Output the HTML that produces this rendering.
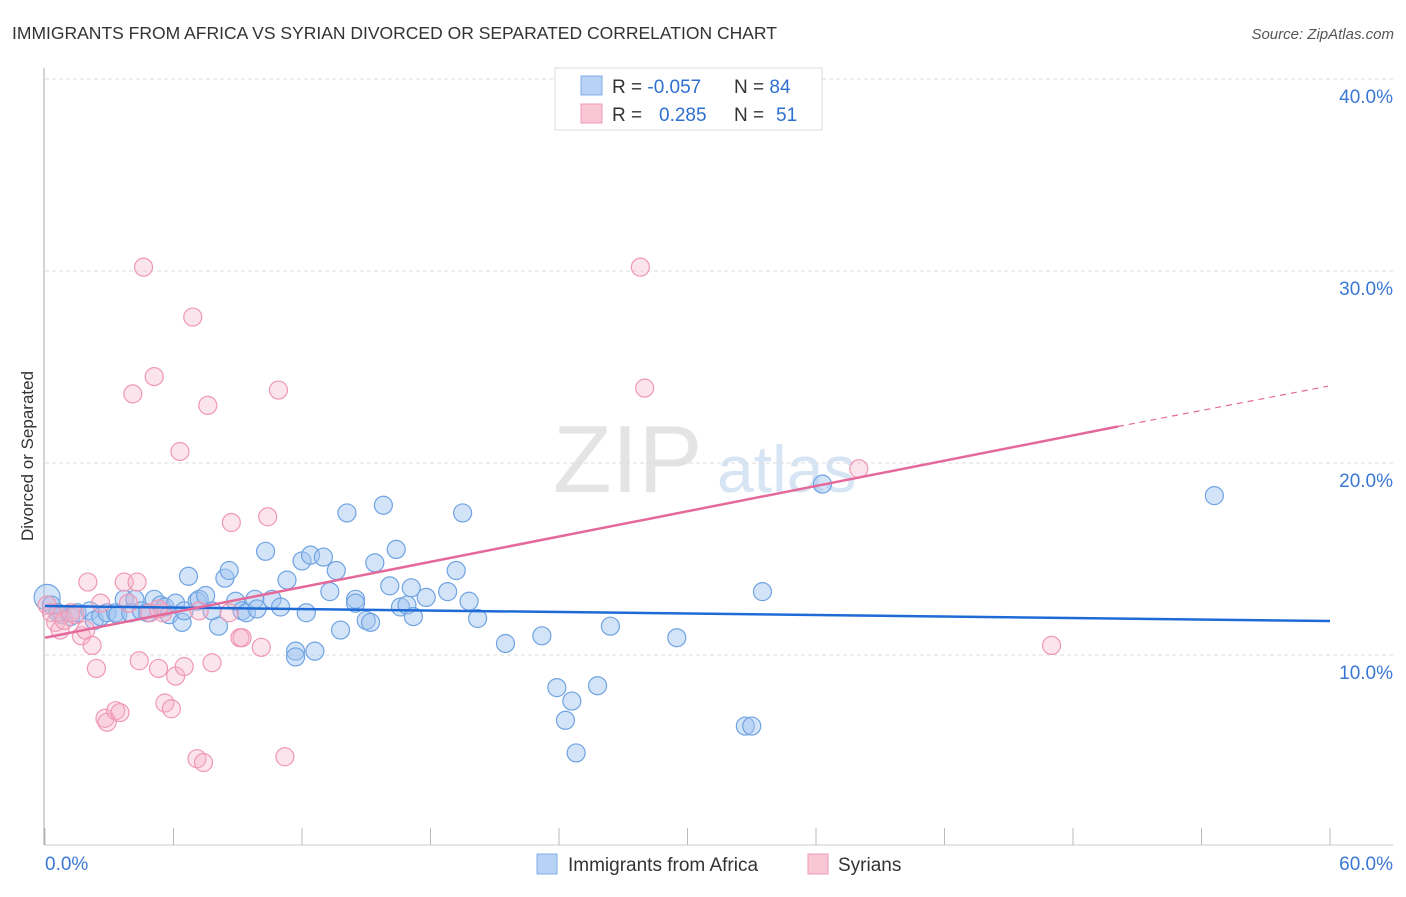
<!DOCTYPE html>
<html><head><meta charset="utf-8"><style>
body{margin:0;background:#fff;font-family:"Liberation Sans",sans-serif}
svg text{font-family:"Liberation Sans",sans-serif}
</style></head><body>
<svg id="c" width="1406" height="892" viewBox="0 0 1406 892">
<text x="12" y="39" font-size="17.5" fill="#333">IMMIGRANTS FROM AFRICA VS SYRIAN DIVORCED OR SEPARATED CORRELATION CHART</text>
<text x="1394" y="39" font-size="15" fill="#555" font-style="italic" text-anchor="end">Source: ZipAtlas.com</text>
<g>
<text x="553" y="492" font-size="96" font-family="Liberation Serif,serif" fill="#e4e4e4">ZIP</text>
<text x="717" y="492" font-size="66" fill="#d6e4f4">atlas</text>
</g>
<g id="grid"></g>
<g id="axes"></g>
<g id="pts"></g>
<g id="trends"></g>
<text transform="translate(33,456) rotate(-90)" font-size="17" fill="#333" text-anchor="middle">Divorced or Separated</text>
<g>
<rect x="555" y="68" width="267" height="62" fill="#fff" stroke="#ddd"/>
<rect x="581" y="76" width="21" height="19" fill="#b7d2f5" stroke="#80aee8"/>
<rect x="581" y="104" width="21" height="19" fill="#f9c6d6" stroke="#ee9cb6"/>
<text x="612" y="93" font-size="19" fill="#333">R = <tspan fill="#2f6fd0">-0.057</tspan><tspan x="734">N = </tspan><tspan fill="#2f6fd0">84</tspan></text>
<text x="612" y="121" font-size="19" fill="#333">R = <tspan x="659" fill="#2f6fd0">0.285</tspan><tspan x="734">N = </tspan><tspan x="776" fill="#2f6fd0">51</tspan></text>
</g>
<g>
<rect x="537" y="854" width="20" height="20" fill="#b7d2f5" stroke="#80aee8"/>
<text x="568" y="871" font-size="19" fill="#333">Immigrants from Africa</text>
<rect x="808" y="854" width="20" height="20" fill="#f9c6d6" stroke="#ee9cb6"/>
<text x="838" y="871" font-size="19" fill="#333">Syrians</text>
</g>
</svg>
<script>
const xTicks=[0,60];
const yTicks=[10,20,30,40];
const blueX=[0.1,0.3,0.6,0.8,1.2,1.5,2.1,2.3,2.6,2.9,3.3,3.4,3.7,4.0,4.2,4.5,4.8,5.1,5.4,5.6,5.8,6.1,6.4,6.5,6.7,7.1,7.2,7.5,7.8,8.1,8.4,8.6,8.9,9.2,9.4,9.8,9.9,10.3,10.6,11.0,11.3,11.7,11.7,12.2,12.6,12.0,12.4,13.0,13.3,13.6,13.8,14.1,14.5,14.5,15.0,15.2,15.4,15.8,16.1,16.4,16.6,16.9,17.1,17.2,17.8,18.8,19.2,19.5,19.8,20.2,21.5,23.2,23.9,24.3,24.6,24.8,25.8,26.4,29.5,32.7,33.0,33.5,36.3,54.6];
const blueY=[13.0,12.6,12.2,12.1,12.0,12.2,12.3,11.8,12.0,12.2,12.2,12.1,12.9,12.2,12.9,12.3,12.2,12.9,12.6,12.5,12.1,12.7,11.7,12.3,14.1,12.8,12.9,13.1,12.3,11.5,14.0,14.4,12.8,12.3,12.2,12.9,12.4,15.4,12.9,12.5,13.9,10.2,9.9,12.2,10.2,14.9,15.2,15.1,13.3,14.4,11.3,17.4,12.9,12.7,11.8,11.7,14.8,17.8,13.6,15.5,12.5,12.6,13.5,12.0,13.0,13.3,14.4,17.4,12.8,11.9,10.6,11.0,8.3,6.6,7.6,4.9,8.4,11.5,10.9,6.3,6.3,13.3,18.9,18.3];
const pinkX=[0.1,0.3,0.5,0.7,0.9,1.2,1.4,1.7,1.9,2.0,2.2,2.4,2.6,2.8,2.9,3.3,3.5,3.7,3.9,4.1,4.3,4.4,4.6,4.9,5.1,5.3,5.5,5.6,5.9,6.1,6.3,6.5,6.9,7.1,7.4,7.6,7.8,8.7,9.1,9.2,10.1,10.4,10.9,11.2,27.8,28.0,38.0,47.0,7.2,8.6,5.3];
const pinkY=[12.6,12.2,11.7,11.3,11.8,12.2,12.1,11.0,11.3,13.8,10.5,9.3,12.7,6.7,6.5,7.1,7.0,13.8,12.7,23.6,13.8,9.7,30.2,12.2,24.5,9.3,12.2,7.5,7.2,8.9,20.6,9.4,27.6,4.6,4.4,23.0,9.6,16.9,10.9,10.9,10.4,17.2,23.8,4.7,30.2,23.9,19.7,10.5,12.3,12.2,12.4];
const blueTrend=[12.55,11.77];
const pinkTrend=[10.9,21.9,24.0];
const pinkTrendX=[0,50.1,59.9];

const NS='http://www.w3.org/2000/svg';
const X0=45,X1=1330,Y0=847,PPY=19.2;
const sx=v=>X0+v/60*(X1-X0);
const sy=v=>Y0-v*PPY;
function mk(tag,attrs,parent){const e=document.createElementNS(NS,tag);for(const k in attrs)e.setAttribute(k,attrs[k]);parent.appendChild(e);return e;}
const grid=document.getElementById('grid'),axes=document.getElementById('axes'),pts=document.getElementById('pts'),tr=document.getElementById('trends');
yTicks.forEach(t=>{
 const l=mk('line',{x1:45,x2:1393,y1:sy(t),y2:sy(t),stroke:'#ddd','stroke-dasharray':'4,3'},grid);
 
 
 const tx=mk('text',{x:1393,y:sy(t)+24,'font-size':19,fill:'#3a78d4','text-anchor':'end'},axes);
 tx.textContent=t.toFixed(1)+'%';
 
 
});
mk('line',{x1:44,x2:44,y1:68,y2:845,stroke:'#aaa'},axes);
mk('line',{x1:44,x2:1393,y1:845,y2:845,stroke:'#ccc'},axes);
for(let i=0;i<=10;i++){const x=X0+i*(X1-X0)/10;const tk=mk('line',{x1:x,x2:x,y1:828,y2:845,stroke:'#bbb'},axes);
 
 }
xTicks.forEach((t,i)=>{const tx=mk('text',{x:i?1393:45,y:870,'font-size':19,fill:'#3a78d4','text-anchor':i?'end':'start'},axes);
 tx.textContent=t.toFixed(1)+'%';
 
 });
blueX.forEach((x,i)=>{const c=mk('circle',{cx:sx(x),cy:sy(blueY[i]),r:i===0?13:9,fill:'rgba(160,196,240,0.45)',stroke:'#6fa3e2','stroke-width':1.2},pts);
 
 });
pinkX.forEach((x,i)=>{const c=mk('circle',{cx:sx(x),cy:sy(pinkY[i]),r:9,fill:'rgba(246,178,200,0.35)',stroke:'#ef98b4','stroke-width':1.2},pts);
 
 });
const bl=mk('line',{x1:sx(0),y1:sy(blueTrend[0]),x2:sx(60),y2:sy(blueTrend[1]),stroke:'#1f6bd6','stroke-width':2.5},tr);


const pl=mk('line',{x1:sx(pinkTrendX[0]),y1:sy(pinkTrend[0]),x2:sx(pinkTrendX[1]),y2:sy(pinkTrend[1]),stroke:'#e4699a','stroke-width':2.5},tr);


const pd=mk('line',{x1:sx(pinkTrendX[1]),y1:sy(pinkTrend[1]),x2:sx(pinkTrendX[2]),y2:sy(pinkTrend[2]),stroke:'#e4699a','stroke-width':1.2,'stroke-dasharray':'6,5'},tr);


</script>
</body></html>
